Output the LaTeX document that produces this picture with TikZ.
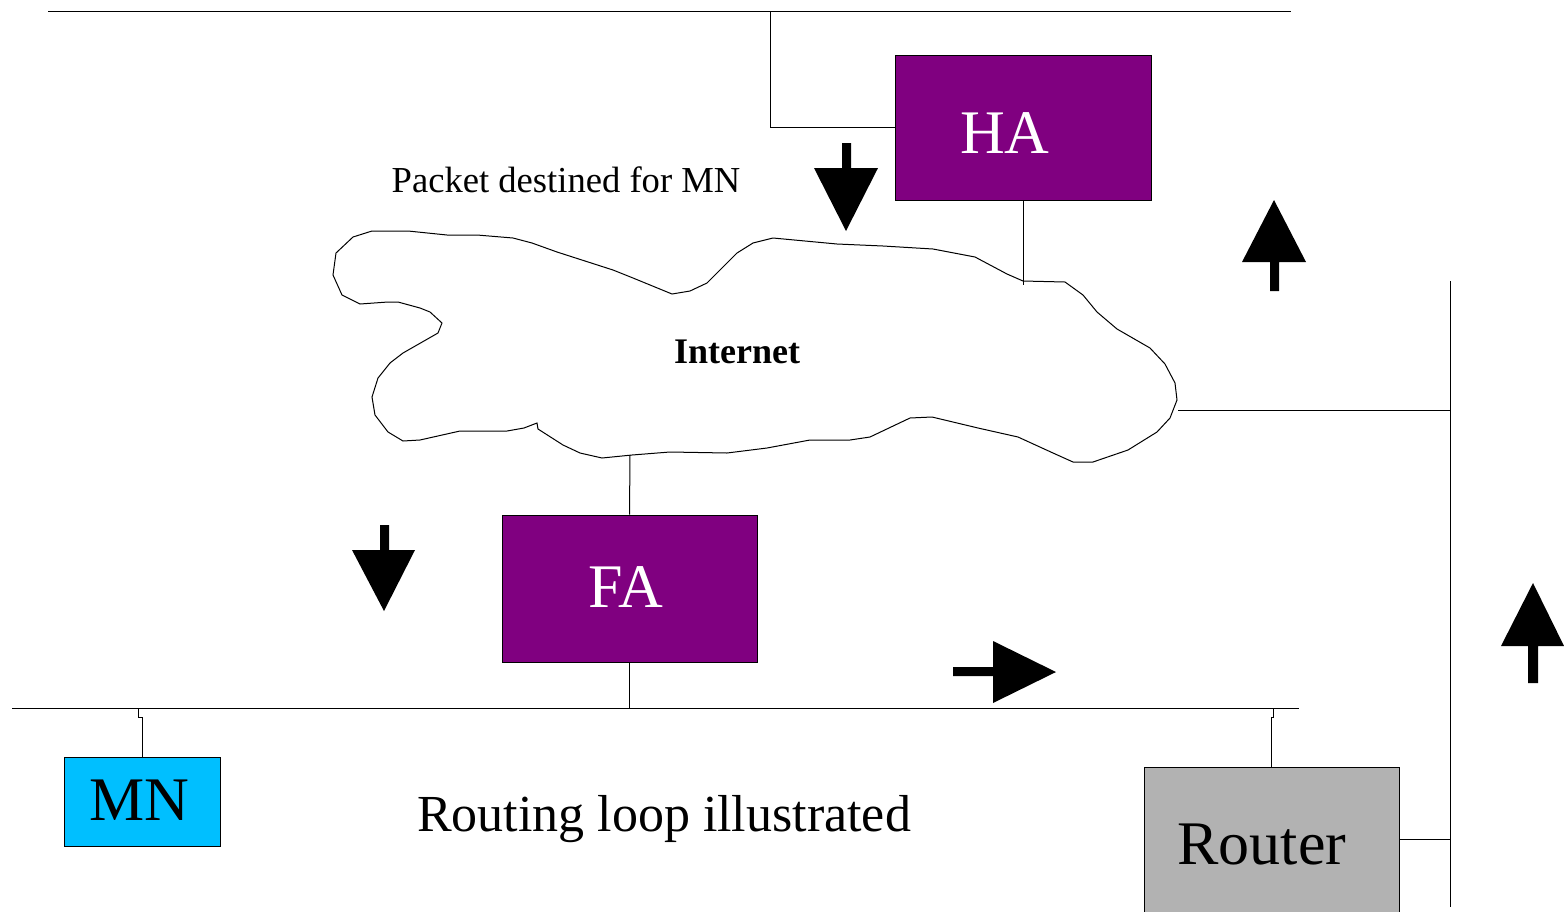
\documentclass[tikz,border=0pt]{standalone}
\usepackage{fontspec}
\setmainfont{Liberation Serif}
\usepackage{xcolor}
\usepackage{tikz}
\definecolor{agent}{HTML}{800080}
\definecolor{mobile}{HTML}{00BFFF}
\definecolor{gate}{HTML}{B2B2B2}
\tikzset{
  wire/.style={draw=black, line width=0.5pt},
  box/.style={draw=black, line width=0.5pt, inner sep=0pt},
  big/.style={font=\fontsize{31}{31}\selectfont, inner sep=0pt},
  note/.style={font=\fontsize{18.3}{18.3}\selectfont, inner sep=0pt},
  blk/.style={fill=black}
}

\begin{document}
\begin{tikzpicture}[x=0.5pt, y=-0.5pt]
\useasboundingbox (0,0) rectangle (1564,911);

% boxes
\node[box, fill=agent, minimum width=128pt, minimum height=72.5pt] (HA) at (1023,127.5) {};
\node[box, fill=agent, minimum width=127.5pt, minimum height=73.5pt] (FA) at (629.5,588.5) {};
\node[box, fill=mobile, minimum width=78pt, minimum height=44.5pt] (MN) at (142,801.5) {};
\node[box, fill=gate, minimum width=127.5pt, minimum height=72.5pt] (router) at (1271.5,839.5) {};
\node[big, text=white] (HAtxt) at (1005,133) {HA};
\node[big, text=white] (FAtxt) at (626,587) {FA};
\node[big] (MNtxt) at (139,800) {MN};
\node[big] (routertxt) at (1262,844) {Router};

% texts
\node[note] (packet) at (566,180) {Packet destined for MN};
\node[note, font=\fontsize{18}{18}\selectfont\bfseries] (internet) at (737,352) {Internet};
\node[font=\fontsize{26}{26}\selectfont, inner sep=0pt] (caption) at (664,819) {Routing loop illustrated};

% cloud
\draw[wire] (372,231) -- (408,231) -- (447,235) -- (477,235) -- (513,238) -- (532,243)
  -- (557,252) -- (613,270) -- (633,278) -- (672,294) -- (690,291) -- (707,283)
  -- (737,253) -- (753,243) -- (773,238) -- (837,244) -- (883,246) -- (933,249)
  -- (975,257) -- (1007,274) -- (1023,281) -- (1065,282) -- (1083,295) -- (1097,312)
  -- (1117,329) -- (1150,348) -- (1165,364) -- (1175,383) -- (1177,400) -- (1170,418)
  -- (1157,432) -- (1128,450) -- (1093,462) -- (1073,462) -- (1053,453) -- (1018,437)
  -- (978,428) -- (932,417) -- (910,418) -- (870,437) -- (850,440) -- (810,440)
  -- (767,448) -- (727,453) -- (670,452) -- (632,455) -- (602,458) -- (580,453)
  -- (563,445) -- (538,429) -- (537,423) -- (524,428) -- (507,431) -- (460,431)
  -- (420,440) -- (403,441) -- (388,432) -- (375,415) -- (372,397) -- (378,378)
  -- (390,363) -- (403,353) -- (438,333) -- (442,323) -- (430,312) -- (420,308)
  -- (398,302) -- (388,302) -- (360,304) -- (342,295) -- (333,275) -- (336,253)
  -- (353,237) -- cycle;
\coordinate (cloudHA) at (1023,285);
\coordinate (cloudFA) at (630,455);
\coordinate (cloudE) at (1178,410);

% segments
\coordinate (topL) at (48,11);
\coordinate (topR) at (1291,11);
\coordinate (topJ) at (770,11);
\coordinate (botL) at (12,708);
\coordinate (botR) at (1299,708);
\coordinate (mnTap) at (138,708);
\coordinate (rtTap) at (1273,708);
\coordinate (vTop) at (1450,281);
\coordinate (vBot) at (1450,907);
\draw[wire] (topL) -- (topR);
\draw[wire] (botL) -- (botR);
\draw[wire] (vTop) -- (vBot);

% links
\draw[wire] (topJ) |- (HA.west);
\draw[wire] (HA.south) -- (cloudHA);
\draw[wire] (cloudFA) -- (FA.north);
\draw[wire] (FA.south) -- (FA.south |- botL);
\draw[wire] (mnTap) -- ++(0,9) -| (MN.north);
\draw[wire] (rtTap) -- ++(0,9) -| (router.north);
\draw[wire] (cloudE) -- (cloudE -| vTop);
\draw[wire] (router.east) -- (router.east -| vTop);

% arrows
\fill[blk] (842,143) -- (851,143) -- (851,168) -- (878,168) -- (846,231) -- (814,168) -- (842,168) -- cycle;
\fill[blk] (1270,291) -- (1270,262) -- (1242,262) -- (1274,200) -- (1306,262) -- (1279,262) -- (1279,291) -- cycle;
\fill[blk] (380,525) -- (389,525) -- (389,550) -- (415,550) -- (384,611) -- (352,550) -- (380,550) -- cycle;
\fill[blk] (953,667) -- (993,667) -- (993,641) -- (1056,672) -- (993,703) -- (993,676) -- (953,676) -- cycle;
\fill[blk] (1528,683) -- (1528,646) -- (1501,646) -- (1533,583) -- (1564,646) -- (1538,646) -- (1538,683) -- cycle;
\end{tikzpicture}
\end{document}
